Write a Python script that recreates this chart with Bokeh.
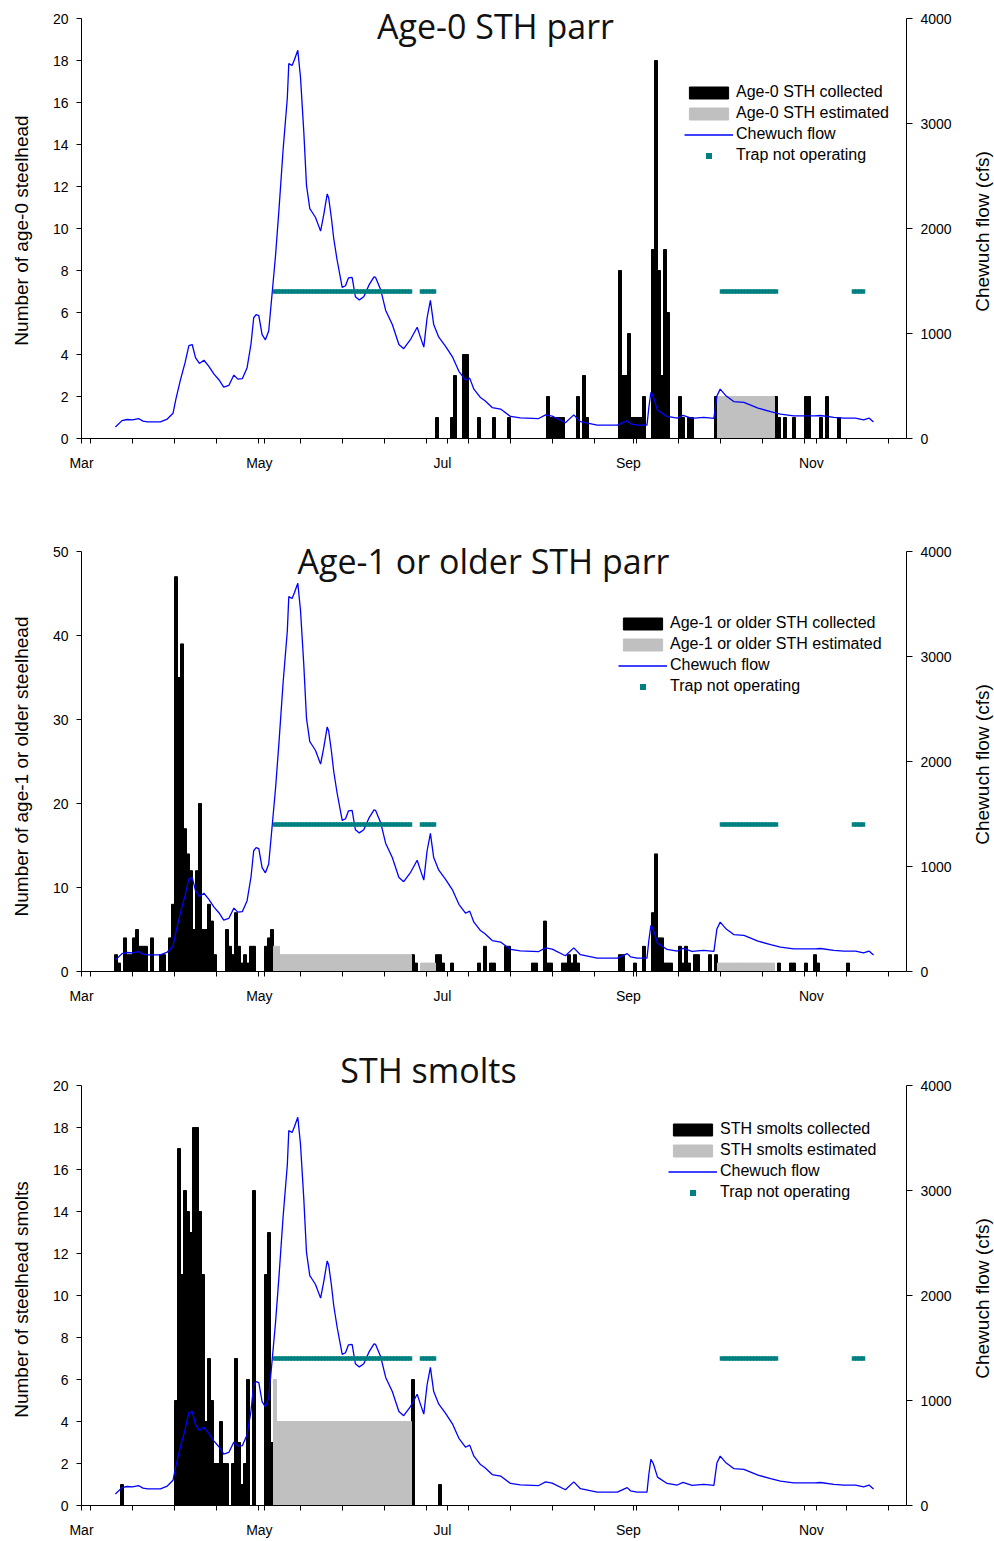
import math
from bokeh.plotting import figure
from bokeh.models import Range1d, LinearAxis, FixedTicker, Legend, LegendItem, Label
from bokeh.layouts import column, row
from bokeh.embed import file_html
from bokeh.resources import INLINE

# ---------------- data (x = days since 1 March) ----------------
month_days = [0, 61, 122, 184, 245]
month_labels = ["Mar", "May", "Jul", "Sep", "Nov"]
minor_days = [3, 17, 31, 45, 59, 73, 87, 101, 115, 129, 143, 157, 171, 185, 199, 213, 227, 241, 255, 269]

flow_day = [11.3, 13.5, 15.2, 17, 19, 20.5, 22, 26.3, 28.6, 30.5, 31.5, 33, 34.5, 35.8, 36.9, 38, 39.3,
            40.8, 42.4, 44.1, 45.8, 47.4, 49.1, 50.8, 52.1, 53.6, 55.2, 56.5, 57.4, 58.2, 59.1, 60.2,
            61.3, 62.4, 63.6, 64.7, 65.8, 67.2, 68.6, 69.1, 70.2, 71, 72.1, 73, 74.1, 75, 76.1, 77, 78,
            79.7, 80.8, 81.9, 82.4, 83.3, 84.1, 85.2, 86.9, 88, 89, 90.2, 91.3, 92.6, 94.1, 95.8, 97.5,
            98, 99.7, 101.4, 103.6, 105.8, 107.4, 109.7, 111.9, 112.8, 114.1, 115.2, 116.3, 117.4,
            119.1, 121.3, 123.6, 125.8, 128, 129.4, 130.8, 133, 134.5, 136.9, 139.7, 143, 146.3, 152.4,
            154.7, 156.9, 161.3, 164.1, 166.3, 171.9, 178.6, 181.9, 183, 185.2, 188.5, 189.1, 189.8,
            190.6, 192, 195.2, 198.6, 200.5, 203.5, 207.4, 210.8, 211.8, 212.9, 214.7, 217.4, 220.8,
            225.5, 229.7, 233, 237.4, 244.5, 246.3, 250.8, 254.1, 258, 260.7, 262.5, 264]
flow_cfs = [110, 170, 181, 178, 190, 165, 159, 159, 185, 240, 380, 560, 720, 885, 895, 770, 715,
            745, 690, 615, 560, 490, 505, 604, 565, 570, 674, 900, 1150, 1180, 1170, 990,
            940, 1024, 1400, 1750, 2170, 2750, 3240, 3570, 3552, 3610, 3697, 3440, 2920, 2410, 2190, 2150, 2105,
            1975, 2140, 2330, 2290, 2100, 1900, 1700, 1440, 1455, 1530, 1535, 1350, 1320, 1350, 1460, 1540,
            1535, 1420, 1220, 1085, 895, 855, 945, 1060, 980, 870, 1150, 1315, 1085,
            965, 880, 780, 640, 555, 575, 470, 390, 360, 295, 280, 210, 197, 190,
            225, 213, 150, 225, 160, 127, 127, 170, 140, 127, 127, 293, 440,
            400, 270, 210, 195, 220, 192, 202, 192, 405, 470, 410, 352, 345,
            290, 255, 232, 215, 215, 219, 202, 195, 195, 178, 195, 158]

trap_off_start = [64, 113, 213, 257]
trap_off_end = [109, 117, 231, 260]
trap_marker_cfs = 1400

age0_days = [118, 123, 124, 127, 128, 132, 137, 142, 155, 156, 157, 158, 159, 160, 165, 167, 168,
             179, 180, 181, 182, 183, 184, 185, 186, 187, 190, 191, 192, 193, 194, 195, 199, 200,
             202, 203, 211, 231, 232, 234, 237, 241, 242, 246, 248, 252]
age0_counts = [1, 1, 3, 4, 4, 1, 1, 1, 2, 1, 1, 1, 1, 1, 2, 3, 1,
               8, 3, 3, 5, 1, 1, 1, 1, 2, 9, 18, 8, 3, 9, 6, 2, 1,
               1, 1, 2, 2, 1, 1, 1, 2, 2, 1, 2, 1]
age0_est_start = [212]
age0_est_end = [230]
age0_est_value = [2]

age1_days = [11, 12, 14, 15, 16, 17, 18, 19, 20, 21, 23, 26, 27, 29, 30, 31, 32, 33, 34, 35, 36, 37,
             38, 39, 40, 41, 42, 43, 44, 48, 49, 50, 51, 52, 53, 54, 55, 56, 57, 61, 62, 63,
             110, 111, 118, 119, 120, 123, 132, 134, 136, 137, 141, 142, 150, 151, 154, 155, 156,
             160, 161, 162, 163, 164, 165, 179, 180, 184, 187, 190, 191, 192, 193, 194, 195, 196,
             199, 200, 201, 202, 204, 205, 209, 211, 232, 236, 237, 241, 244, 245, 255]
age1_counts = [2, 1, 4, 2, 2, 4, 5, 3, 3, 3, 4, 2, 2, 4, 8, 47, 35, 39, 17, 14, 12, 5,
               12, 20, 5, 5, 8, 6, 2, 5, 3, 2, 7, 3, 1, 2, 1, 3, 3, 3, 4, 5,
               2, 1, 2, 2, 1, 1, 1, 3, 1, 1, 3, 3, 1, 1, 6, 1, 1,
               1, 1, 2, 1, 2, 1, 2, 2, 1, 3, 7, 14, 4, 4, 1, 1, 1,
               3, 1, 3, 1, 2, 2, 2, 2, 1, 1, 1, 1, 2, 1, 1]
age1_est_start = [64, 66, 113, 212]
age1_est_end = [65, 109, 117, 230]
age1_est_value = [3, 2, 1, 1]

smolt_days = [13, 31, 32, 33, 34, 35, 36, 37, 38, 39, 40, 41, 42, 43, 44, 45, 46, 47, 48, 50, 51,
              52, 53, 54, 55, 57, 61, 62, 63, 110, 119]
smolt_counts = [1, 5, 17, 11, 15, 14, 13, 18, 18, 14, 11, 4, 7, 5, 2, 2, 4, 2, 2, 2, 7,
                3, 1, 2, 6, 15, 11, 13, 3, 6, 1]
smolt_est_start = [64, 65]
smolt_est_end = [64, 109]
smolt_est_value = [6, 4]

flow_max = 4000

# ---------------- styling ----------------
SANS = "Liberation Sans"
TITLE_FONT = "Open Sans"
BLUE = "#0000FF"
TEAL = "#008080"
GRAY = "#C0C0C0"
STRIP_L = 34                    # left strip with the y-axis title
STRIP_R = 34                    # right strip with the flow-axis title
MAIN_W = 994 - STRIP_L - STRIP_R
FRAME_L = 81                    # page x of plot frame left edge
FRAME_R = 906                   # page x of plot frame right edge
AXIS_PX = 420                   # pixel length of the drawn y axes
LABEL_SHIFT = 1.7               # month labels sit slightly left of their ticks (days)


def expand(starts, ends, values=None):
    xs, ys = [], []
    for i, (s, e) in enumerate(zip(starts, ends)):
        for d in range(s, e + 1):
            xs.append(d + 0.5)
            if values is not None:
                ys.append(values[i])
    return xs, ys


def style_axis(ax, tick_out, standoff):
    ax.axis_line_color = "black"
    ax.axis_line_width = 1
    ax.major_tick_line_color = "black"
    ax.minor_tick_line_color = "black"
    ax.major_tick_in = 0
    ax.major_tick_out = tick_out
    ax.minor_tick_in = 0
    ax.minor_tick_out = 0
    ax.major_label_standoff = standoff
    ax.major_label_text_font = SANS
    ax.major_label_text_font_size = "14px"
    ax.major_label_text_color = "black"


def strip(height, frame_h, x, y, text):
    q = figure(width=STRIP_L, height=height, output_backend="svg", toolbar_location=None,
               x_range=Range1d(0, STRIP_L), y_range=Range1d(0, frame_h),
               x_axis_type=None, y_axis_type=None, min_border=0)
    q.outline_line_color = None
    q.add_layout(Label(x=x, y=y, text=text, angle=math.pi / 2, text_align="center",
                       text_baseline="middle", text_font=SANS, text_font_size="19px",
                       text_color="black"))
    return q


def make_panel(height, frame_top, border_bottom, y_max, y_ticks,
               coll_days, coll_counts, est_start, est_end, est_value,
               title, title_x, title_y, y_label, y_label_y, legend_labels, legend_xy):
    frame_h = height - frame_top - border_bottom
    scale = frame_h / AXIS_PX
    p = figure(width=MAIN_W, height=height, output_backend="svg", toolbar_location=None,
               x_range=Range1d(0, 275), y_range=Range1d(0, y_max * scale),
               x_axis_type=None, y_axis_type=None,
               min_border_left=FRAME_L - STRIP_L, min_border_right=STRIP_L + MAIN_W - FRAME_R,
               min_border_top=frame_top, min_border_bottom=border_bottom)
    p.extra_y_ranges = {"flow": Range1d(0, flow_max * scale)}
    p.outline_line_color = None
    p.background_fill_color = "white"
    p.border_fill_color = "white"

    # x axis: all tick marks drawn as minor ticks; month names on hidden major ticks
    lab_ticks = [max(0.0, d - LABEL_SHIFT) for d in month_days]
    xaxis = LinearAxis(ticker=FixedTicker(ticks=lab_ticks,
                                          minor_ticks=sorted(set(minor_days + month_days))),
                       major_label_overrides=dict(zip(lab_ticks, month_labels)))
    style_axis(xaxis, 5, 11)
    xaxis.major_tick_line_color = None
    xaxis.minor_tick_out = 5
    p.add_layout(xaxis, "below")

    yaxis = LinearAxis(ticker=FixedTicker(ticks=y_ticks, minor_ticks=[]), bounds=(0, y_max))
    style_axis(yaxis, 5, 8)
    p.add_layout(yaxis, "left")

    raxis = LinearAxis(y_range_name="flow", bounds=(0, flow_max),
                       ticker=FixedTicker(ticks=[0, 1000, 2000, 3000, 4000], minor_ticks=[]))
    style_axis(raxis, 6, 8)
    p.add_layout(raxis, "right")

    r_coll = p.vbar(x=[d + 0.5 for d in coll_days], top=coll_counts, width=1.0, bottom=0,
                    fill_color="black", line_color="black", line_width=1.0)
    ex, ey = expand(est_start, est_end, est_value)
    r_est = p.vbar(x=ex, top=ey, width=1.0, bottom=0, fill_color=GRAY, line_color=GRAY,
                   line_width=1.0)
    r_flow = p.line(flow_day, flow_cfs, y_range_name="flow", line_color=BLUE, line_width=1.3)
    tx, _ = expand(trap_off_start, trap_off_end)
    r_trap = p.scatter(tx, [trap_marker_cfs] * len(tx), y_range_name="flow", marker="square",
                       size=4.5, fill_color=TEAL, line_color=None)

    legend = Legend(items=[LegendItem(label=legend_labels[0], renderers=[r_coll]),
                           LegendItem(label=legend_labels[1], renderers=[r_est]),
                           LegendItem(label="Chewuch flow", renderers=[r_flow]),
                           LegendItem(label="Trap not operating", renderers=[r_trap])],
                    location=legend_xy, border_line_color=None, background_fill_alpha=0,
                    padding=0, margin=0, spacing=3, glyph_width=49, glyph_height=15,
                    label_height=18, label_standoff=3, label_text_font=SANS,
                    label_text_font_size="16px", label_text_color="black")
    p.add_layout(legend)

    p.add_layout(Label(x=title_x, y=title_y, x_units="screen", y_units="screen", text=title,
                       text_align="center", text_baseline="alphabetic", text_font=TITLE_FONT,
                       text_font_size="34px", text_color="#111111"))

    left = strip(height, frame_h, 21, y_label_y, y_label)
    right = strip(height, frame_h, 982 - (STRIP_L + MAIN_W), 207, "Chewuch flow (cfs)")
    return row(left, p, right, spacing=0)


p1 = make_panel(500, 8, 62, 20, list(range(0, 21, 2)),
                age0_days, age0_counts, age0_est_start, age0_est_end, age0_est_value,
                "Age-0 STH parr", 414, 413, "Number of age-0 steelhead", 208,
                ["Age-0 STH collected", "Age-0 STH estimated"], (603, 274))
p2 = make_panel(510, 41, 39, 50, [0, 10, 20, 30, 40, 50],
                age1_days, age1_counts, age1_est_start, age1_est_end, age1_est_value,
                "Age-1 or older STH parr", 402, 411, "Number of age-1 or older steelhead", 205,
                ["Age-1 or older STH collected", "Age-1 or older STH estimated"], (537, 276))
p3 = make_panel(531, 43, 36, 20, list(range(0, 21, 2)),
                smolt_days, smolt_counts, smolt_est_start, smolt_est_end, smolt_est_value,
                "STH smolts", 347, 436, "Number of steelhead smolts", 206,
                ["STH smolts collected", "STH smolts estimated"], (587, 304))

layout = column(p1, p2, p3, spacing=0)
open("out.html", "w").write(file_html(layout, INLINE))
